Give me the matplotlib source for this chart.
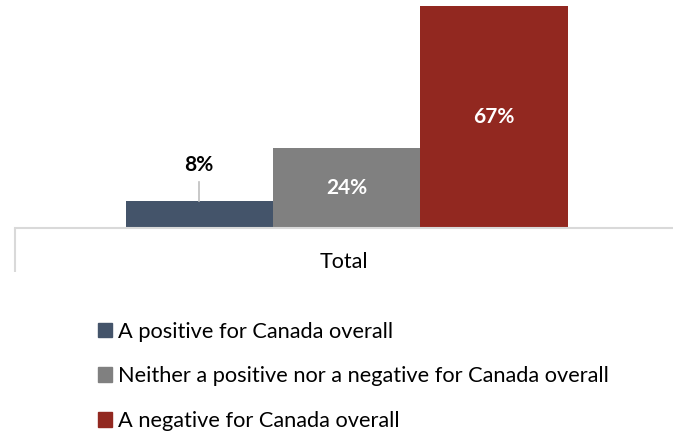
import matplotlib.pyplot as plt
from matplotlib.patches import Patch

plt.rcParams['font.family'] = ['Lato', 'DejaVu Sans']

categories = ["Total"]
series = ["A positive for Canada overall",
          "Neither a positive nor a negative for Canada overall",
          "A negative for Canada overall"]
values = [8, 24, 67]
colors = ["#44546A", "#808080", "#922820"]
label_colors = ["black", "white", "white"]

W, H = 673, 434
fig = plt.figure(figsize=(W / 100, H / 100), dpi=100)
ax = fig.add_axes([15 / W, (H - 228) / H, (W - 15) / W, 222 / H])

bw = 0.224
offsets = [-bw, 0, bw]
for v, c, lc, off in zip(values, colors, label_colors, offsets):
    x = 0.004 + off
    ax.bar(x, v, width=bw, color=c, zorder=2)
    if v < 15:
        # small bar: label sits above with a leader line
        ax.plot([x, x], [v, v + 6], color="#BFBFBF", lw=1.2, zorder=3)
        ax.text(x, v + 11, f"{v}%", ha="center", va="center",
                fontsize=15, fontweight="bold", color=lc)
    else:
        ax.text(x, v / 2, f"{v}%", ha="center", va="center",
                fontsize=15, fontweight="bold", color=lc)

ax.set_xlim(-0.5, 0.5)
ax.set_ylim(0, 67)
for s in ["top", "right", "left"]:
    ax.spines[s].set_visible(False)
ax.spines["bottom"].set_color("#D9D9D9")
ax.spines["bottom"].set_linewidth(1.5)
ax.set_yticks([])

ax.set_xticks([-0.5])
ax.set_xticklabels([""])
ax.tick_params(axis="x", which="major", length=32, width=1.5, color="#D9D9D9")
ax.set_xticks([0], minor=True)
ax.set_xticklabels(categories, minor=True)
ax.tick_params(axis="x", which="minor", length=0, pad=17, labelsize=15.5)

handles = [Patch(color=c) for c in colors]
fig.legend(handles, series, loc="upper left", bbox_to_anchor=(89 / W, 1 - 313 / H),
           frameon=False, fontsize=15.7, handlelength=0.65, handleheight=0.65,
           handletextpad=0.3, labelspacing=1.13, borderaxespad=0)

fig.savefig("out.png", dpi=100)
